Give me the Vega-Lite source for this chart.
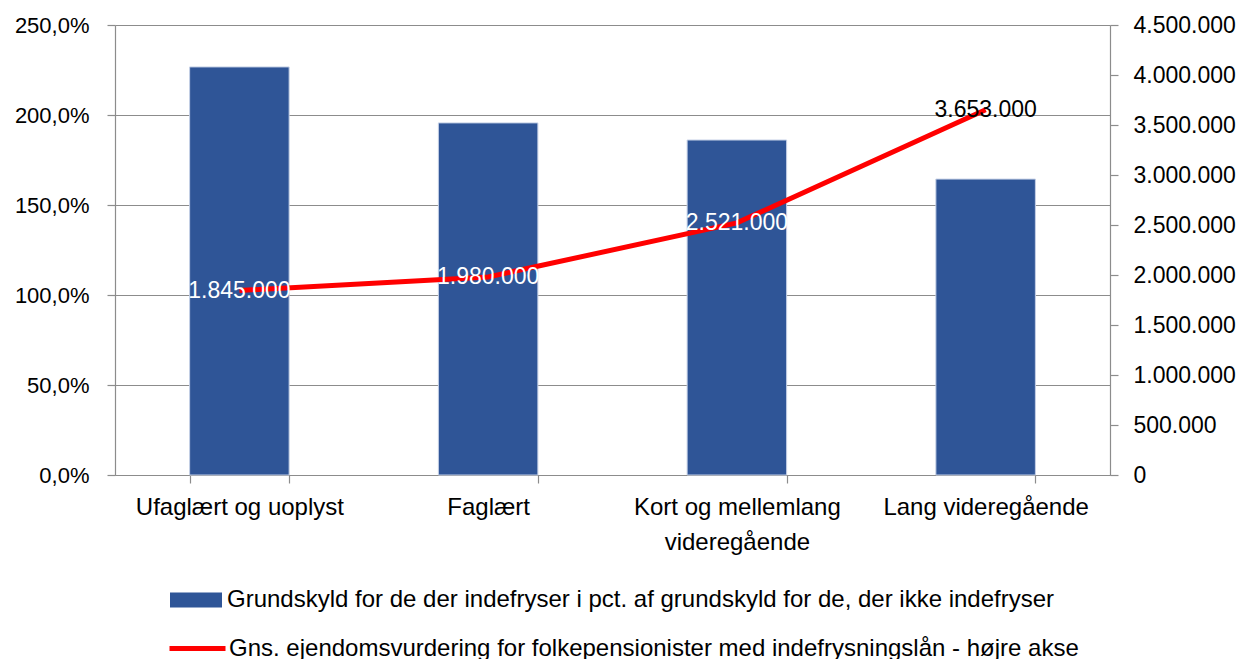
{
  "$schema": "https://vega.github.io/schema/vega-lite/v6.json",
  "width": 995,
  "height": 450,
  "autosize": {"type": "none"},
  "padding": {"left": 115, "top": 25, "right": 145, "bottom": 184},
  "background": "white",
  "config": {
    "locale": {"number": {"decimal": ",", "thousands": ".", "grouping": [3], "currency": ["", " kr."]}},
    "font": "Liberation Sans",
    "view": {"stroke": null},
    "axis": {
      "labelFont": "Liberation Sans",
      "labelFontSize": 22,
      "labelColor": "#000000",
      "domainColor": "#8c8c8c",
      "tickColor": "#8c8c8c",
      "gridColor": "#8c8c8c",
      "gridOpacity": 1,
      "gridWidth": 1,
      "domainWidth": 1.2,
      "tickWidth": 1.2,
      "tickSize": 8,
      "title": null
    },
    "legend": {"labelFont": "Liberation Sans", "labelFontSize": 24, "labelColor": "#000000", "padding": 0}
  },
  "data": {
    "values": [
      {"kat": "Ufaglært og uoplyst", "pct": 2.267, "vurd": 1845000},
      {"kat": "Faglært", "pct": 1.956, "vurd": 1980000},
      {"kat": "Kort og mellemlang videregående", "pct": 1.861, "vurd": 2521000},
      {"kat": "Lang videregående", "pct": 1.644, "vurd": 3653000}
    ]
  },
  "encoding": {
    "x": {
      "field": "kat",
      "type": "nominal",
      "sort": null,
      "scale": {"paddingInner": 0.6, "paddingOuter": 0.3},
      "axis": {
        "labelAngle": 0,
        "labelFontSize": 24,
        "labelLimit": 400,
        "tickBand": "extent",
        "labelPadding": 12,
        "labelLineHeight": 35,
        "labelExpr": "datum.label == 'Kort og mellemlang videregående' ? ['Kort og mellemlang', 'videregående'] : datum.label"
      }
    }
  },
  "layer": [
    {
      "mark": {"type": "bar", "stroke": "#c5d0e6", "strokeWidth": 1},
      "encoding": {
        "y": {
          "field": "pct",
          "type": "quantitative",
          "scale": {"domain": [0, 2.5], "nice": false},
          "axis": {
            "orient": "left",
            "values": [0, 0.5, 1, 1.5, 2, 2.5],
            "format": ".1%",
            "grid": true,
            "labelPadding": 18
          }
        },
        "fill": {
          "datum": "Grundskyld for de der indefryser i pct. af grundskyld for de, der ikke indefryser",
          "type": "nominal",
          "scale": {"range": ["#2f5597"]},
          "legend": {
            "title": null,
            "orient": "none",
            "legendX": 55,
            "legendY": 549,
            "symbolType": "M-1,-0.29H1V0.29H-1Z",
            "symbolSize": 2704,
            "symbolStrokeWidth": 0,
            "labelOffset": 5,
            "labelLimit": 1200
          }
        }
      }
    },
    {
      "mark": {"type": "line", "strokeWidth": 5},
      "encoding": {
        "y": {
          "field": "vurd",
          "type": "quantitative",
          "scale": {"domain": [0, 4500000], "nice": false},
          "axis": {
            "orient": "right",
            "values": [0, 500000, 1000000, 1500000, 2000000, 2500000, 3000000, 3500000, 4000000, 4500000],
            "format": ",d",
            "grid": false,
            "labelFontSize": 23,
            "labelPadding": 15
          }
        },
        "stroke": {
          "datum": "Gns. ejendomsvurdering for folkepensionister med indefrysningslån - højre akse",
          "type": "nominal",
          "scale": {"range": ["#ff0000"]},
          "legend": {
            "title": null,
            "orient": "none",
            "legendX": 52,
            "legendY": 593,
            "symbolType": "stroke",
            "symbolSize": 3136,
            "symbolStrokeWidth": 5,
            "labelOffset": 1,
            "labelLimit": 1200
          }
        }
      }
    },
    {
      "mark": {"type": "text", "fontSize": 23, "font": "Liberation Sans", "baseline": "middle", "align": "center"},
      "encoding": {
        "y": {"field": "vurd", "type": "quantitative", "scale": {"domain": [0, 4500000], "nice": false}, "axis": null},
        "text": {"field": "vurd", "type": "quantitative", "format": ",d"},
        "color": {"condition": {"test": "datum.vurd > 3000000", "value": "#000000"}, "value": "#ffffff"}
      }
    }
  ],
  "resolve": {"scale": {"y": "independent"}}
}
